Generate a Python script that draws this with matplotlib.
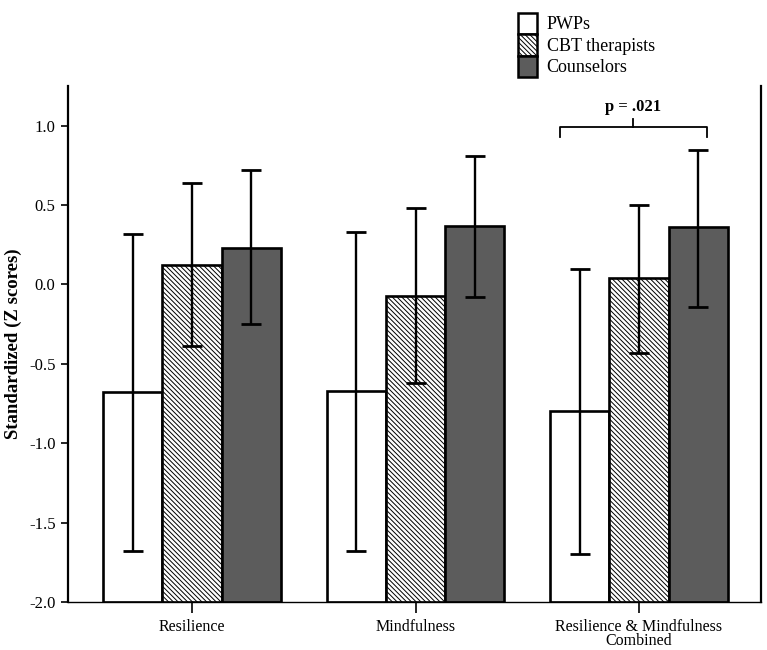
import numpy as np
import matplotlib.pyplot as plt
import matplotlib.patches as mpatches

plt.rcParams['font.family'] = ['Liberation Serif', 'DejaVu Serif']
plt.rcParams['hatch.linewidth'] = 0.7

categories = ["Resilience", "Mindfulness", "Resilience & Mindfulness\nCombined"]
groups = ["PWPs", "CBT therapists", "Counselors"]

means = {
    "PWPs": [-0.68, -0.67, -0.80],
    "CBT therapists": [0.12, -0.07, 0.04],
    "Counselors": [0.23, 0.37, 0.36],
}
upper = {
    "PWPs": [0.32, 0.33, 0.10],
    "CBT therapists": [0.64, 0.48, 0.50],
    "Counselors": [0.72, 0.81, 0.85],
}
lower = {
    "PWPs": [-1.68, -1.68, -1.70],
    "CBT therapists": [-0.39, -0.62, -0.43],
    "Counselors": [-0.25, -0.08, -0.14],
}
p_label = "p = .021"

faces = ["white", "white", "#5c5c5c"]
hatches = [None, "\\" * 7, None]

base = -2.0
w = 0.265

fig = plt.figure(figsize=(7.67, 6.5), dpi=100)
ax = fig.add_axes([68 / 767, 1 - 602 / 650, (761 - 68) / 767, (602 - 86) / 650])

x = np.arange(len(categories))
for i, g in enumerate(groups):
    xs = x + (i - 1) * w
    m = np.array(means[g])
    ax.bar(xs, m - base, bottom=base, width=w, color=faces[i], edgecolor="black",
           linewidth=1.9, hatch=hatches[i], zorder=2)
    yerr = [m - np.array(lower[g]), np.array(upper[g]) - m]
    ax.errorbar(xs, m, yerr=yerr, fmt="none", ecolor="black", elinewidth=1.7,
                capsize=7, capthick=2.0, zorder=3)

# significance bracket over third group
x0, x1 = 2 - w - 0.09, 2 + w + 0.04
xm = (x0 + x1) / 2
ax.plot([x0, x0, x1, x1], [0.93, 0.99, 0.99, 0.93], color="black", lw=1.3, zorder=4)
ax.plot([xm, xm], [0.99, 1.04], color="black", lw=1.3, zorder=4)
ax.text(xm, 1.07, p_label, ha="center", va="bottom", fontsize=12, fontweight="bold")

ax.set_xlim(-0.555, 2.546)
ax.set_ylim(-2.0, 1.25)
ax.set_yticks(np.arange(-2.0, 1.01, 0.5))
ax.set_yticklabels([f"{v:.1f}" for v in np.arange(-2.0, 1.01, 0.5)])
ax.set_xticks(x)
ax.set_xticklabels(categories, linespacing=0.9)
ax.tick_params(axis="both", labelsize=12, direction="out", width=1.2)
ax.tick_params(axis="x", labelsize=11.5)
ax.tick_params(axis="y", length=5, pad=4)
ax.tick_params(axis="x", length=8, pad=4)
ax.spines["top"].set_visible(False)
for s in ["left", "right"]:
    ax.spines[s].set_linewidth(1.6)
ax.spines["bottom"].set_linewidth(1.0)
ax.set_ylabel("Standardized (Z scores)", fontsize=13.5, fontweight="bold", labelpad=5)

handles = [mpatches.Patch(facecolor=faces[i], edgecolor="black", hatch=hatches[i],
                          linewidth=1.8, label=groups[i]) for i in range(3)]
fig.legend(handles=handles, loc="upper left", bbox_to_anchor=(505 / 767, 1.0),
           frameon=False, fontsize=13, handlelength=1.1, handleheight=1.45,
           handletextpad=0.5, labelspacing=0.0, borderpad=0.2)

fig.savefig("out.png", dpi=100)
